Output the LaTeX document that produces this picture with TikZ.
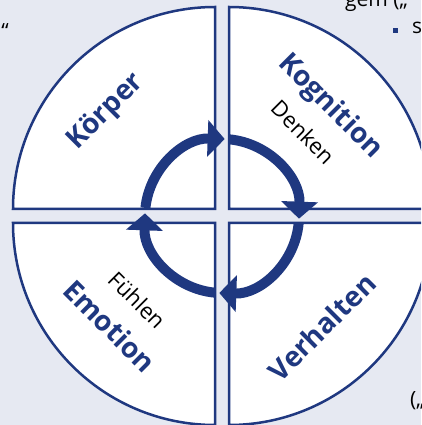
\documentclass[tikz,border=0pt]{standalone}
\usepackage{fontspec}
\setmainfont{Open Sans}
\usetikzlibrary{arrows.meta}
\definecolor{navy}{RGB}{31,56,128}
\definecolor{paper}{RGB}{230,233,242}

\begin{document}
\begin{tikzpicture}[x=1pt,y=1pt,
  quarter/.style={draw=navy,fill=white,line width=2.5pt},
  turn/.style={draw=navy,line width=10pt,-{Triangle[length=17pt,width=36pt]}},
  title/.style={text=navy,font=\fontsize{28}{28}\selectfont\bfseries},
  sub/.style={text=black,font=\fontsize{22}{22}\selectfont},
  side/.style={text=black,font=\fontsize{21}{21}\selectfont,inner sep=0pt}]
\useasboundingbox (-222,-209) rectangle (199,216);
\clip (-222,-209) rectangle (199,216);
\fill[paper] (-222,-209) rectangle (199,216);
% four quarters
\draw[quarter] (-7,7) -- (-209,7) arc[start angle=180,end angle=90,radius=202] -- cycle;
\draw[quarter] (7,7) -- (7,209) arc[start angle=90,end angle=0,radius=202] -- cycle;
\draw[quarter] (-7,-7) -- (-209,-7) arc[start angle=180,end angle=270,radius=202] -- cycle;
\draw[quarter] (7,-7) -- (209,-7) arc[start angle=0,end angle=-90,radius=202] -- cycle;
% arrows round the middle
\draw[turn] (174:77) arc[start angle=174,end angle=88,radius=77];
\draw[turn] (85:77) arc[start angle=85,end angle=-2,radius=77];
\draw[turn] (-5:77) arc[start angle=-5,end angle=-92,radius=77];
\draw[turn] (-95:77) arc[start angle=-95,end angle=-182,radius=77];
% labels
\node[title,rotate=45] (koerper) at (-116,104) {Körper};
\node[title,rotate=-45] (kognition) at (108,109) {Kognition};
\node[sub,rotate=-45] (denken) at (81,84) {Denken};
\node[title,rotate=-45] (emotion) at (-112,-110) {Emotion};
\node[sub,rotate=-45] (fuehlen) at (-85,-84) {Fühlen};
\node[title,rotate=45] (verhalten) at (100,-111) {Verhalten};
% text of the page round it
\node[side,anchor=base west] (gem) at (123,209) {gem („};
\node[side,anchor=base west] (bullet) at (171,182) {\textcolor{navy}{\rule[1pt]{5pt}{5pt}}\hspace{14pt}s};
\node[side] (quote) at (-217,185) {“};
\node[side,anchor=base west] (paren) at (188,-190) {(„};
\end{tikzpicture}
\end{document}
